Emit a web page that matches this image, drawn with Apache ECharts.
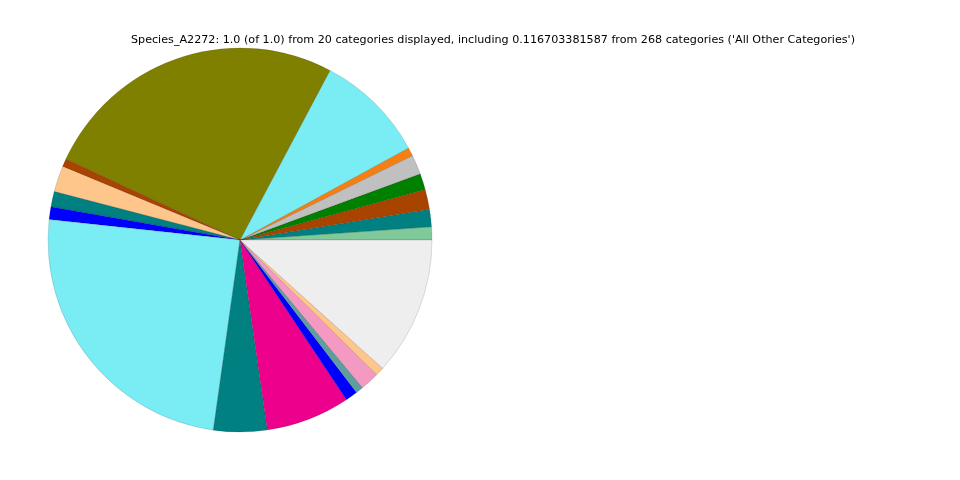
<!DOCTYPE html>
<html>
<head>
<meta charset="utf-8">
<script src="https://cdn.jsdelivr.net/npm/echarts@6/dist/echarts.min.js"></script>
<style>html,body{margin:0;padding:0;background:#fff}#c{width:960px;height:480px}</style>
</head>
<body>
<div id="c"></div>
<script>
var categories = ['Cat_01','Cat_02','Cat_03','Cat_04','Cat_05','Cat_06','Cat_07','Cat_08','Cat_09','Cat_10','Cat_11','Cat_12','Cat_13','Cat_14','Cat_15','Cat_16','Cat_17','Cat_18','Cat_19','All Other Categories'];
var values = [0.0110,0.0147,0.0168,0.0136,0.0164,0.0072,0.0928,0.2586,0.0067,0.0220,0.0128,0.0108,0.2450,0.0450,0.0708,0.0103,0.0064,0.0160,0.0072,0.116703381587];
var colors = ['#80c99b','#008080','#a84400','#008000','#c0c0c0','#f57f10','#7aecf4','#808000','#a84400','#ffc68c','#008080','#0000ff','#7aecf4','#008080','#ec008c','#0000ff','#5f9ea0','#f49ac2','#ffc68c','#eeeeee'];
var titleText = "Species_A2272: 1.0 (of 1.0) from 20 categories displayed, including 0.116703381587 from 268 categories ('All Other Categories')";

var data = categories.map(function(c,i){return {name:c, value:values[i], itemStyle:{color:colors[i]}};});
var chart = echarts.init(document.getElementById('c'), null, {renderer:'canvas'});
chart.setOption({
  animation:false,
  title:{text:titleText, left:126, top:30,
    textStyle:{fontFamily:'DejaVu Sans', fontSize:11.15, fontWeight:'normal', color:'#000'}},
  series:[{
    type:'pie',
    center:[240,240],
    radius:[0,192],
    startAngle:0,
    clockwise:false,
    avoidLabelOverlap:false,
    minAngle:0,
    label:{show:false},
    labelLine:{show:false},
    itemStyle:{borderColor:'rgba(0,0,0,0.25)', borderWidth:0.5},
    emphasis:{disabled:true},
    data:data
  }]
});
</script>
</body>
</html>
